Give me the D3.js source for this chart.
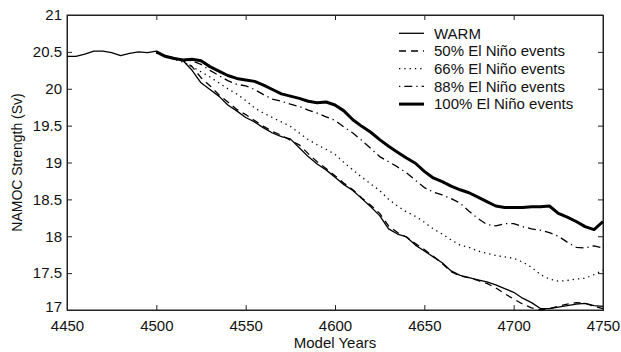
<!DOCTYPE html>
<html>
<head>
<meta charset="utf-8">
<script src="https://cdn.jsdelivr.net/npm/d3@7"></script>
<style>
  body { margin: 0; background: #fff; }
  text { font-family: "Liberation Sans", Arial, sans-serif; fill: #111; }
</style>
</head>
<body>
<svg width="621" height="352"></svg>
<script>
// years: WARM runs from 4450, the El Niño runs from 4500 (5-year steps)
const warmYears = d3.range(4450, 4751, 5);
const ninoYears = d3.range(4500, 4751, 5);

const warm = [20.44, 20.44, 20.47, 20.51, 20.51, 20.49, 20.45, 20.48, 20.50, 20.49,
  20.51, 20.44, 20.42, 20.38, 20.25, 20.08, 19.99, 19.90, 19.78, 19.70,
  19.61, 19.55, 19.47, 19.40, 19.35, 19.32, 19.20, 19.08, 18.98, 18.90,
  18.80, 18.70, 18.62, 18.51, 18.40, 18.28, 18.10, 18.03, 17.99, 17.88,
  17.80, 17.72, 17.64, 17.53, 17.47, 17.44, 17.41, 17.38, 17.34, 17.29,
  17.24, 17.16, 17.10, 17.02, 17.02, 17.04, 17.06, 17.08, 17.09, 17.06, 17.05];

const nino50 = [20.50, 20.44, 20.42, 20.38, 20.30, 20.15, 20.04, 19.92, 19.82, 19.72,
  19.65, 19.57, 19.49, 19.42, 19.37, 19.30, 19.24, 19.12, 19.01, 18.92,
  18.82, 18.72, 18.63, 18.52, 18.42, 18.31, 18.14, 18.05, 17.99, 17.90,
  17.82, 17.73, 17.63, 17.52, 17.46, 17.44, 17.40, 17.36, 17.30, 17.22,
  17.15, 17.08, 17.03, 17.00, 17.02, 17.05, 17.08, 17.10, 17.09, 17.05, 17.02];

const nino66 = [20.49, 20.43, 20.40, 20.36, 20.30, 20.23, 20.16, 20.08, 20.00, 19.93,
  19.84, 19.74, 19.67, 19.61, 19.55, 19.49, 19.40, 19.31, 19.24, 19.18,
  19.11, 19.00, 18.90, 18.80, 18.71, 18.62, 18.50, 18.41, 18.33, 18.27,
  18.19, 18.10, 18.03, 17.95, 17.88, 17.85, 17.80, 17.77, 17.74, 17.72,
  17.70, 17.65, 17.58, 17.48, 17.42, 17.39, 17.40, 17.42, 17.43, 17.48, 17.54];

const nino88 = [20.49, 20.43, 20.41, 20.39, 20.38, 20.33, 20.25, 20.18, 20.11, 20.06,
  20.04, 19.99, 19.92, 19.86, 19.83, 19.79, 19.76, 19.71, 19.67, 19.62,
  19.57, 19.48, 19.40, 19.30, 19.19, 19.08, 19.01, 18.94, 18.86, 18.76,
  18.66, 18.60, 18.56, 18.51, 18.45, 18.34, 18.24, 18.16, 18.14, 18.17,
  18.17, 18.13, 18.10, 18.08, 18.05, 18.00, 17.92, 17.85, 17.84, 17.87, 17.84];

const nino100 = [20.50, 20.44, 20.41, 20.39, 20.40, 20.38, 20.30, 20.24, 20.18, 20.14,
  20.12, 20.10, 20.05, 19.99, 19.93, 19.90, 19.87, 19.83, 19.81, 19.82,
  19.78, 19.70, 19.58, 19.49, 19.41, 19.31, 19.22, 19.14, 19.06, 18.99,
  18.88, 18.79, 18.74, 18.68, 18.63, 18.59, 18.53, 18.47, 18.41, 18.39,
  18.39, 18.39, 18.40, 18.40, 18.41, 18.31, 18.26, 18.20, 18.13, 18.09, 18.20];

const seriesNames = ["WARM", "50% El Niño events", "66% El Niño events", "88% El Niño events", "100% El Niño events"];
const xTicks = d3.range(4450, 4751, 50);
const yTicks = [17, 17.5, 18, 18.5, 19, 19.5, 20, 20.5, 21];

const svg = d3.select("svg");
const mLeft = 67, mRight = 603, mTop = 15, mBottom = 310;

const x = d3.scaleLinear().domain([4450, 4750]).range([mLeft, mRight]);
const y = d3.scaleLinear().domain([17, 21]).range([mBottom, mTop]);

// box frame
svg.append("rect")
  .attr("x", mLeft).attr("y", mTop)
  .attr("width", mRight - mLeft).attr("height", mBottom - mTop)
  .attr("fill", "none").attr("stroke", "#222").attr("stroke-width", 1);

// axes with inward ticks (bottom/left labelled, top/right plain)
svg.append("g").attr("transform", `translate(0,${mBottom})`)
  .call(d3.axisBottom(x).tickValues(xTicks).tickSize(-5).tickPadding(10).tickFormat(d3.format("d")));
svg.append("g").attr("transform", `translate(${mLeft},0)`)
  .call(d3.axisLeft(y).tickValues(yTicks).tickSize(-5).tickPadding(5).tickFormat(d => d));
svg.append("g").attr("transform", `translate(0,${mTop})`)
  .call(d3.axisTop(x).tickValues(xTicks).tickSize(-5).tickFormat(""));
svg.append("g").attr("transform", `translate(${mRight},0)`)
  .call(d3.axisRight(y).tickValues(yTicks).tickSize(-5).tickFormat(""));

svg.selectAll(".domain").attr("stroke", "#222");
svg.selectAll(".tick line").attr("stroke", "#222");
svg.selectAll(".tick text").attr("font-size", 15).attr("fill", "#111")
  .style("font-family", "Liberation Sans, Arial, sans-serif");

// the "17" label sits just above the first year label
svg.selectAll(".tick text").filter(d => d === 17).attr("dy", "0.1em");

// axis titles
svg.append("text")
  .attr("x", (mLeft + mRight) / 2).attr("y", 348)
  .attr("text-anchor", "middle").attr("font-size", 15)
  .text("Model Years");
svg.append("text")
  .attr("transform", `translate(22,${(mTop + mBottom) / 2}) rotate(-90)`)
  .attr("text-anchor", "middle").attr("font-size", 14)
  .text("NAMOC Strength (Sv)");

// line styles per series
const styles = [
  { w: 1.3, dash: null },
  { w: 1.3, dash: "7,5" },
  { w: 1.3, dash: "1.3,4" },
  { w: 1.3, dash: "1.3,4,8,4" },
  { w: 3, dash: null }
];

const series = [
  { years: warmYears, vals: warm },
  { years: ninoYears, vals: nino50 },
  { years: ninoYears, vals: nino66 },
  { years: ninoYears, vals: nino88 },
  { years: ninoYears, vals: nino100 }
];

const line = d3.line().x(d => x(d[0])).y(d => y(d[1]));

const plot = svg.append("g");
// bold drawn last so it sits on top
series.forEach((s, i) => {
  plot.append("path")
    .datum(s.years.map((yr, j) => [yr, s.vals[j]]))
    .attr("fill", "none")
    .attr("stroke", "#000")
    .attr("stroke-width", styles[i].w)
    .attr("stroke-linejoin", "round")
    .attr("stroke-dasharray", styles[i].dash)
    .attr("d", line);
});

// legend
const legend = svg.append("g");
seriesNames.forEach((name, i) => {
  const cy = 33.3 + i * 17.7;
  legend.append("line")
    .attr("x1", 399).attr("x2", 424).attr("y1", cy).attr("y2", cy)
    .attr("stroke", "#000")
    .attr("stroke-width", styles[i].w)
    .attr("stroke-dasharray", styles[i].dash);
  legend.append("text")
    .attr("x", 434).attr("y", cy + 5.3)
    .attr("font-size", 15)
    .text(name);
});
</script>
</body>
</html>
